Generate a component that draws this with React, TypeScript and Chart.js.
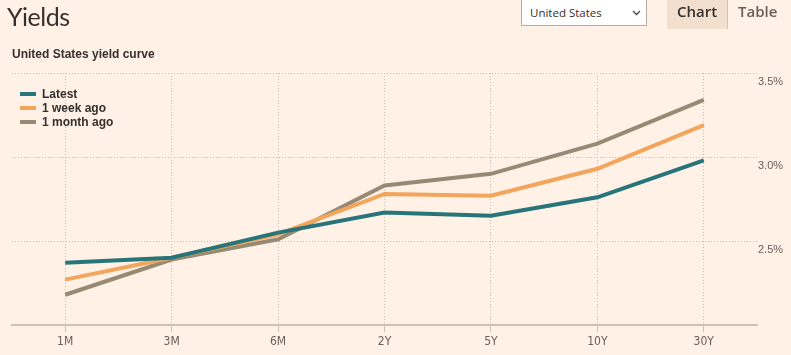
import React, { useEffect, useRef } from "react";
import { Chart, registerables } from "chart.js";

Chart.register(...registerables);

const categories = ["1M", "3M", "6M", "2Y", "5Y", "10Y", "30Y"];
const latest = [2.37, 2.4, 2.55, 2.67, 2.65, 2.76, 2.98];
const weekAgo = [2.27, 2.4, 2.54, 2.78, 2.77, 2.93, 3.19];
const monthAgo = [2.18, 2.39, 2.51, 2.83, 2.9, 3.08, 3.34];
const yTicks = [2.0, 2.5, 3.0, 3.5];
const seriesNames = ["Latest", "1 week ago", "1 month ago"];
const seriesColors = ["#27757a", "#f2a55c", "#978a74"];

const BG = "#fff1e5";
const TEXT = "#33302e";
const MUTED = "#66605c";
const GRID = "#c9bcb0";
const AXIS = "#cfc1b0";

export default function App() {
  const canvasRef = useRef<HTMLCanvasElement | null>(null);

  useEffect(() => {
    document.body.style.margin = "0";
    document.body.style.background = BG;
    const canvas = canvasRef.current;
    if (!canvas) return;
    const seriesData = [latest, weekAgo, monthAgo];
    const chart = new Chart(canvas, {
      type: "line",
      data: {
        labels: categories,
        datasets: seriesData.map((d, i) => ({
          label: seriesNames[i],
          data: d,
          borderColor: seriesColors[i],
          backgroundColor: seriesColors[i],
          borderWidth: 4,
          pointRadius: 0,
          pointHoverRadius: 0,
          tension: 0,
          fill: false,
        })),
      },
      options: {
        animation: false,
        responsive: false,
        maintainAspectRatio: false,
        devicePixelRatio: 1,
        layout: { padding: { left: 12, top: 73, right: 0, bottom: 0 } },
        plugins: {
          legend: { display: false },
          title: { display: false },
          tooltip: { enabled: false },
        },
        scales: {
          x: {
            type: "category",
            offset: true,
            afterFit: (s: any) => {
              s.height = 30;
            },
            grid: {
              display: true,
              offset: false,
              color: GRID,
              lineWidth: 1,
              drawOnChartArea: true,
              drawTicks: true,
              tickLength: 7,
              tickColor: AXIS,
              tickWidth: 1,
              tickBorderDash: [],
            },
            border: { display: true, color: AXIS, width: 2, dash: [1, 2] },
            ticks: {
              color: MUTED,
              padding: 3,
              maxRotation: 0,
              font: {
                family: "'Liberation Sans Narrow', 'Arial Narrow', 'DejaVu Sans Condensed', sans-serif",
                size: 12,
              },
            },
          },
          y: {
            type: "linear",
            position: "right",
            min: 2.0,
            max: 3.5,
            afterFit: (s: any) => {
              s.width = 34;
            },
            afterBuildTicks: (s: any) => {
              s.ticks = yTicks.map((v) => ({ value: v }));
            },
            grid: {
              display: true,
              color: GRID,
              lineWidth: 1,
              drawTicks: false,
            },
            border: { display: false, dash: [1, 2] },
            ticks: {
              color: MUTED,
              padding: 1,
              labelOffset: 9,
              font: { family: "'Liberation Sans', Arial, sans-serif", size: 11 },
              callback: (v: any) => (Number(v) === 2 ? "" : Number(v).toFixed(1) + "%"),
            },
          },
        },
      },
    });
    return () => chart.destroy();
  }, []);

  const abs = (s: React.CSSProperties): React.CSSProperties => ({ position: "absolute", ...s });

  return (
    <div style={{ position: "fixed", inset: 0, background: BG }}>
      <div style={abs({ left: 0, top: 0, width: 791, height: 355, overflow: "hidden" })}>
        <canvas ref={canvasRef} width={791} height={355} style={abs({ left: 0, top: 0, width: 791, height: 355 })} />
        <div
          style={abs({
            left: 7,
            top: 0,
            height: 32,
            lineHeight: "32px",
            fontFamily: "Lato, 'Open Sans', sans-serif",
            fontSize: 25,
            letterSpacing: -0.5,
            color: TEXT,
            whiteSpace: "nowrap",
          })}
        >
          Yields
        </div>
        <div
          style={abs({
            left: 12,
            top: 47,
            height: 14,
            lineHeight: "14px",
            fontFamily: "'Liberation Sans', Arial, sans-serif",
            fontWeight: 700,
            fontSize: 12,
            color: TEXT,
            whiteSpace: "nowrap",
          })}
        >
          United States yield curve
        </div>
        <div
          style={abs({
            left: 521,
            top: -1,
            width: 124,
            height: 25,
            border: "1px solid #b5aca4",
            background: "#ffffff",
            boxSizing: "content-box",
          })}
        >
          <div
            style={abs({
              left: 8,
              top: 0,
              height: 26,
              lineHeight: "26px",
              fontFamily: "'Open Sans', sans-serif",
              fontSize: 11.5,
              color: TEXT,
              whiteSpace: "nowrap",
            })}
          >
            United States
          </div>
          <svg style={abs({ left: 110, top: 10, width: 9, height: 6 })} viewBox="0 0 9 6">
            <polyline points="1,1 4.5,4.5 8,1" fill="none" stroke="#4a4542" strokeWidth="1.3" />
          </svg>
        </div>
        <div
          style={abs({
            left: 667,
            top: 0,
            width: 60,
            height: 29,
            background: "#f2dfce",
            borderRight: "1px solid #d4c3b3",
          })}
        />
        <div
          style={abs({
            left: 667,
            top: 0,
            width: 60,
            height: 22,
            lineHeight: "22px",
            textAlign: "center",
            fontFamily: "'Open Sans', sans-serif",
            fontWeight: 600,
            fontSize: 15,
            color: TEXT,
          })}
        >
          Chart
        </div>
        <div
          style={abs({
            left: 738,
            top: 0,
            height: 22,
            lineHeight: "22px",
            fontFamily: "'Open Sans', sans-serif",
            fontWeight: 600,
            fontSize: 15,
            color: MUTED,
          })}
        >
          Table
        </div>
        {seriesNames.map((name, i) => (
          <React.Fragment key={name}>
            <div
              style={abs({
                left: 20,
                top: 92 + i * 14,
                width: 16,
                height: 4,
                background: seriesColors[i],
              })}
            />
            <div
              style={abs({
                left: 42,
                top: 87 + i * 14,
                height: 14,
                lineHeight: "14px",
                fontFamily: "'Liberation Sans', Arial, sans-serif",
                fontWeight: 700,
                fontSize: 12,
                color: TEXT,
                whiteSpace: "nowrap",
              })}
            >
              {name}
            </div>
          </React.Fragment>
        ))}
      </div>
    </div>
  );
}
